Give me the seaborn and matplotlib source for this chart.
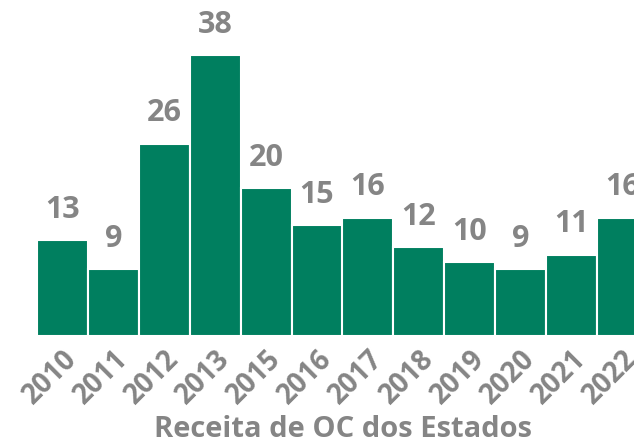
import matplotlib
matplotlib.use('Agg')
import matplotlib.pyplot as plt
import seaborn as sns
import pandas as pd

# 데이터
anos = ['2010', '2011', '2012', '2013', '2015', '2016', '2017', '2018', '2019', '2020', '2021', '2022']
valores = [13, 9, 26, 38, 20, 15, 16, 12, 10, 9, 11, 16]

verde = '#007F5F'
cinza = '#858585'

sns.set_style('white')
plt.rcParams['font.family'] = ['Open Sans', 'DejaVu Sans']

df = pd.DataFrame({'ano': anos, 'valor': valores})

fig = plt.figure(figsize=(6.34, 4.44), dpi=100)
# eixo um pouco mais largo que a figura: a última barra fica cortada como no original
ax = fig.add_axes([37 / 634, 108 / 444, 611 / 634, 333 / 444])

sns.barplot(data=df, x='ano', y='valor', color=verde, saturation=1,
            width=1.0, edgecolor='white', linewidth=1.5, ax=ax)

for i, v in enumerate(valores):
    ax.annotate(str(v), (i, v), xytext=(0, 16), textcoords='offset points',
                ha='center', va='baseline', fontsize=22, fontweight='bold', color=cinza)

ax.set_xlim(-0.5, 11.5)
ax.set_ylim(0, 45)
ax.set_yticks([])
ax.set_ylabel('')
ax.set_xlabel('Receita de OC dos Estados', fontsize=21, fontweight='bold', color=cinza, labelpad=4)
plt.setp(ax.get_xticklabels(), rotation=45, ha='right', rotation_mode='anchor',
         fontsize=20, fontweight='bold', color=cinza)
ax.tick_params(axis='x', length=0, pad=6)
sns.despine(ax=ax, left=True, bottom=True)

fig.savefig('out.png', dpi=100)
